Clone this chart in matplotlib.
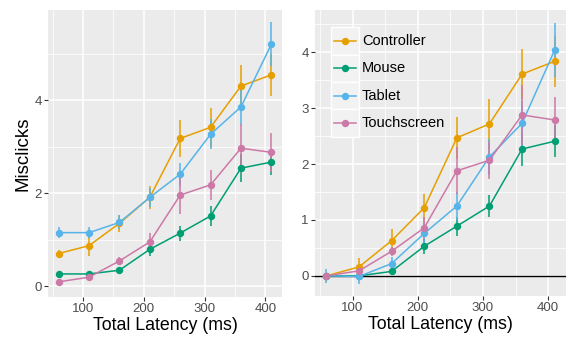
import matplotlib.pyplot as plt
import numpy as np
from matplotlib.patches import Rectangle
from matplotlib.lines import Line2D
from matplotlib.ticker import MultipleLocator

plt.rcParams["font.family"] = ["Liberation Sans", "DejaVu Sans"]

latency = [60, 110, 160, 210, 260, 310, 360, 410]
devices = ["Controller", "Mouse", "Tablet", "Touchscreen"]
colors = ["#E69F00", "#009E73", "#56B4E9", "#CC79A7"]

# left panel: raw misclicks
raw_controller = [0.70, 0.87, 1.35, 1.91, 3.18, 3.42, 4.31, 4.55]
raw_mouse = [0.26, 0.26, 0.34, 0.79, 1.14, 1.51, 2.54, 2.67]
raw_tablet = [1.15, 1.15, 1.37, 1.91, 2.41, 3.27, 3.86, 5.21]
raw_touch = [0.09, 0.19, 0.54, 0.95, 1.96, 2.18, 2.97, 2.88]
raw_err_controller = [0.07, 0.22, 0.19, 0.25, 0.40, 0.42, 0.45, 0.46]
raw_err_mouse = [0.04, 0.04, 0.05, 0.14, 0.16, 0.21, 0.30, 0.27]
raw_err_tablet = [0.12, 0.12, 0.15, 0.21, 0.25, 0.32, 0.38, 0.47]
raw_err_touch = [0.03, 0.05, 0.08, 0.19, 0.40, 0.33, 0.53, 0.42]

# right panel: relative to 60 ms baseline
rel_controller = [0.0, 0.16, 0.63, 1.22, 2.47, 2.72, 3.61, 3.84]
rel_mouse = [0.0, 0.0, 0.08, 0.53, 0.89, 1.25, 2.27, 2.41]
rel_tablet = [0.0, -0.01, 0.22, 0.76, 1.25, 2.13, 2.73, 4.04]
rel_touch = [0.0, 0.09, 0.44, 0.86, 1.88, 2.07, 2.88, 2.79]
rel_err_controller = [0.05, 0.16, 0.20, 0.25, 0.38, 0.44, 0.45, 0.46]
rel_err_mouse = [0.03, 0.03, 0.04, 0.13, 0.17, 0.20, 0.30, 0.29]
rel_err_tablet = [0.12, 0.13, 0.11, 0.20, 0.25, 0.32, 0.40, 0.48]
rel_err_touch = [0.05, 0.06, 0.08, 0.20, 0.42, 0.33, 0.53, 0.42]

raw = [raw_controller, raw_mouse, raw_tablet, raw_touch]
raw_err = [raw_err_controller, raw_err_mouse, raw_err_tablet, raw_err_touch]
rel = [rel_controller, rel_mouse, rel_tablet, rel_touch]
rel_err = [rel_err_controller, rel_err_mouse, rel_err_tablet, rel_err_touch]


def style_axis(ax, ylim, ymajor):
    ax.set_facecolor("#EBEBEB")
    for s in ax.spines.values():
        s.set_visible(False)
    ax.set_xlim(42.5, 427.5)
    ax.set_ylim(*ylim)
    ax.xaxis.set_major_locator(MultipleLocator(100))
    ax.xaxis.set_minor_locator(MultipleLocator(50))
    ax.yaxis.set_major_locator(MultipleLocator(ymajor))
    ax.yaxis.set_minor_locator(MultipleLocator(ymajor / 2))
    ax.grid(which="major", color="white", linewidth=1.1)
    ax.grid(which="minor", color="white", linewidth=0.55)
    ax.set_axisbelow(True)
    ax.tick_params(which="major", length=2.6, width=0.8, color="#333333",
                   labelcolor="#4D4D4D", labelsize=9.5, pad=2)
    ax.tick_params(which="minor", length=0)
    ax.set_xlabel("Total Latency (ms)", fontsize=12.8, labelpad=1)


def draw_series(ax, values, errors):
    for vals, errs, c in zip(values, errors, colors):
        ax.errorbar(latency, vals, yerr=errs, color=c, marker="o", markersize=4.3,
                    linewidth=1.1, elinewidth=1.1, capsize=0, zorder=3)


fig = plt.figure(figsize=(5.68, 3.41), dpi=100)
ax1 = fig.add_axes([0.0845, 0.129, 0.412, 0.842])
ax2 = fig.add_axes([0.5546, 0.132, 0.442, 0.839])

style_axis(ax1, (-0.237, 5.95), 2)
draw_series(ax1, raw, raw_err)
ax1.set_ylabel("Misclicks", fontsize=13.5, labelpad=2)

style_axis(ax2, (-0.36, 4.76), 1)
ax2.yaxis.set_minor_locator(MultipleLocator(0.5))
ax2.axhline(0, color="black", linewidth=1.0, zorder=2)
draw_series(ax2, rel, rel_err)

# legend drawn ggplot-style: grey keys with white borders
key_x, key_w = 0.064, 0.113
key_top, key_h = 0.94, 0.096
for i, (name, c) in enumerate(zip(devices, colors)):
    y0 = key_top - (i + 1) * key_h
    ax2.add_patch(Rectangle((key_x, y0), key_w, key_h, transform=ax2.transAxes,
                            facecolor="#F2F2F2", edgecolor="white", linewidth=1.0,
                            zorder=4))
    ax2.add_line(Line2D([key_x + 0.012, key_x + key_w - 0.012], [y0 + key_h / 2] * 2,
                        transform=ax2.transAxes, color=c, linewidth=1.1, zorder=5))
    ax2.add_line(Line2D([key_x + key_w / 2], [y0 + key_h / 2], transform=ax2.transAxes,
                        color=c, marker="o", markersize=4.3, zorder=5))
    ax2.text(key_x + key_w + 0.01, y0 + key_h / 2, name, transform=ax2.transAxes,
             fontsize=10.5, va="center", ha="left", color="black", zorder=5)

fig.savefig("out.png", dpi=100)
plt.close(fig)
